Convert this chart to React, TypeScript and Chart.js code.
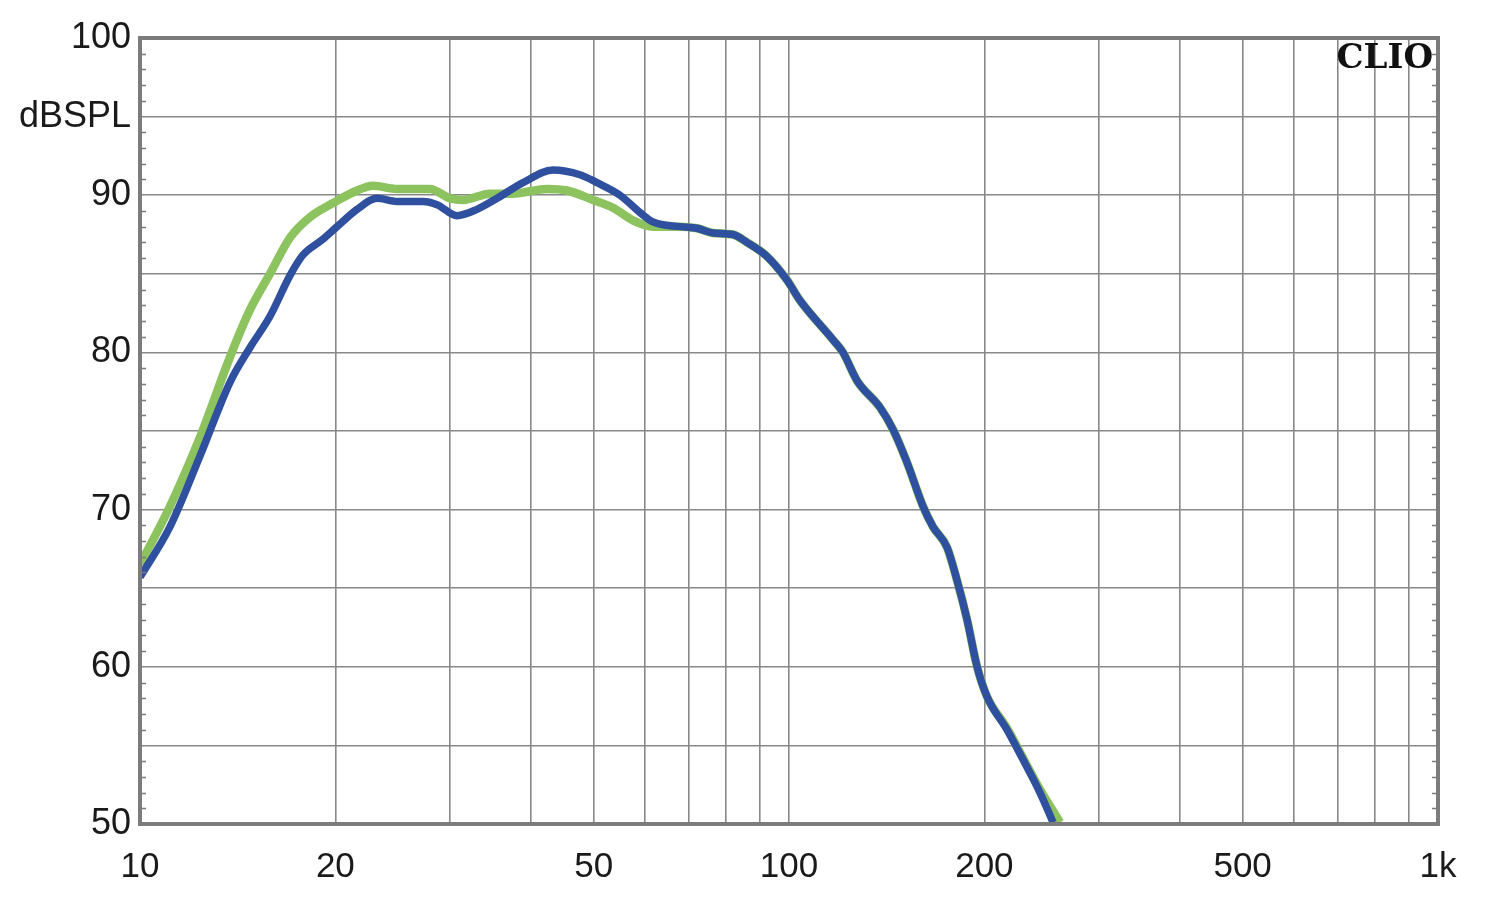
import React, { useEffect, useRef } from "react";
import { Chart, registerables } from "chart.js";

Chart.register(...registerables);

// Blue curve (frequency Hz / level dB SPL)
const blueFreq = [10, 11.12, 12.37, 13.76, 14.77, 15.86, 17.03, 17.83, 19.14, 20.12, 21.6, 23.19, 24.89, 27.3, 28.69, 30.79, 33.06, 35.49, 38.92, 43.29, 47.64, 50.6, 54.9, 58.93, 61.71, 67.92, 72.14, 76.36, 81.97, 86.14, 92.5, 99.29, 104, 116.9, 121.1, 127.3, 138.1, 144.6, 152, 160.9, 166.7, 175.2, 181.5, 188.1, 194.9, 201.9, 216.7, 229.4, 243.6, 255.2];
const blueDb = [65.7, 68.9, 73.4, 78.1, 80.3, 82.3, 84.9, 86.2, 87.2, 88.0, 89.1, 89.8, 89.6, 89.6, 89.4, 88.7, 89.1, 89.8, 90.8, 91.6, 91.3, 90.8, 90.0, 88.9, 88.3, 88.0, 87.9, 87.6, 87.5, 87.0, 86.1, 84.6, 83.3, 80.8, 80.0, 78.2, 76.5, 75.1, 73.0, 70.2, 68.9, 67.6, 65.5, 63.0, 60.0, 58.1, 56.0, 54.1, 52.0, 50.1];

// Green curve
const greenFreq = [10, 11.12, 12.37, 13.76, 14.77, 15.86, 17.03, 18.27, 19.84, 21.6, 22.86, 24.89, 27.98, 30.04, 31.46, 34.62, 37.55, 42.38, 45.49, 49.89, 53.56, 57.47, 61.71, 63.27, 67.92, 72.14, 76.36, 81.97, 86.14, 92.5, 99.29, 104, 116.9, 121.1, 127.3, 138.1, 144.6, 152, 160.9, 166.7, 175.2, 181.5, 188.1, 194.9, 201.9, 216.7, 229.4, 243.6, 261.6];
const greenDb = [66.5, 70.2, 74.6, 79.7, 82.7, 85.0, 87.3, 88.6, 89.5, 90.3, 90.6, 90.4, 90.4, 89.8, 89.7, 90.1, 90.1, 90.4, 90.3, 89.7, 89.2, 88.4, 88.0, 88.0, 88.0, 87.9, 87.6, 87.5, 87.0, 86.1, 84.6, 83.3, 80.8, 80.0, 78.2, 76.5, 75.1, 73.0, 70.2, 68.9, 67.6, 65.5, 63.0, 60.0, 58.1, 56.1, 54.2, 52.2, 50.1];

// Axes
const gridFreqs = [10, 20, 30, 40, 50, 60, 70, 80, 90, 100, 200, 300, 400, 500, 600, 700, 800, 900, 1000];
const xLabelFreqs = [10, 20, 50, 100, 200, 500, 1000];
const xLabelTexts = ["10", "20", "50", "100", "200", "500", "1k"];
const yMin = 50;
const yMax = 100;
const yMajorStep = 5;
const yMinorStep = 1;
const yLabelValues = [50, 60, 70, 80, 90, 95, 100];
const yLabelTexts = ["50", "60", "70", "80", "90", "dBSPL", "100"];
const brandText = "CLIO";

const FONT = '"Liberation Sans", Arial, Helvetica, sans-serif';

const framePlugin = {
  id: "frameAndTicks",
  afterDraw(chart: any) {
    const { ctx, chartArea: a, scales } = chart;
    const y = scales.y;
    ctx.save();
    ctx.strokeStyle = "#7a7a7a";
    ctx.lineWidth = 1.5;
    for (let v = yMin; v <= yMax; v += yMinorStep) {
      if (v % yMajorStep === 0) continue;
      const py = Math.round(y.getPixelForValue(v)) + 0.5;
      ctx.beginPath();
      ctx.moveTo(a.left, py);
      ctx.lineTo(a.left + 6, py);
      ctx.moveTo(a.right - 6, py);
      ctx.lineTo(a.right, py);
      ctx.stroke();
    }
    ctx.lineWidth = 4;
    ctx.strokeStyle = "#7c7c7c";
    ctx.strokeRect(a.left, a.top, a.right - a.left, a.bottom - a.top);
    ctx.font = 'bold 34px "DejaVu Serif", "Liberation Serif", serif';
    ctx.fillStyle = "#111111";
    ctx.textAlign = "right";
    ctx.textBaseline = "alphabetic";
    ctx.fillText(brandText, a.right - 5, a.top + 30);
    ctx.restore();
  },
};

export default function App() {
  const ref = useRef<HTMLCanvasElement | null>(null);

  useEffect(() => {
    if (!ref.current) return;
    const blue = blueFreq.map((f, i) => ({ x: f, y: blueDb[i] }));
    const green = greenFreq.map((f, i) => ({ x: f, y: greenDb[i] }));
    const chart = new Chart(ref.current, {
      type: "line",
      data: {
        datasets: [
          {
            label: "blue",
            data: blue,
            borderColor: "#2f4f9f",
            borderWidth: 7.5,
            pointRadius: 0,
            cubicInterpolationMode: "monotone",
            fill: false,
          },
          {
            label: "green",
            data: green,
            borderColor: "#8dc35f",
            borderWidth: 8.5,
            pointRadius: 0,
            cubicInterpolationMode: "monotone",
            fill: false,
          },
        ],
      },
      options: {
        animation: false,
        responsive: true,
        maintainAspectRatio: false,
        layout: { padding: { top: 38, right: 62, left: 0, bottom: 0 } },
        plugins: { legend: { display: false }, tooltip: { enabled: false } },
        scales: {
          x: {
            type: "logarithmic",
            min: 10,
            max: 1000,
            afterBuildTicks: (s: any) => {
              s.ticks = gridFreqs.map((v) => ({ value: v }));
            },
            afterFit: (s: any) => {
              s.height = 78;
            },
            ticks: {
              autoSkip: false,
              maxRotation: 0,
              minRotation: 0,
              padding: 22,
              color: "#1a1a1a",
              font: { family: FONT, size: 35 },
              callback: (v: any) => {
                const i = xLabelFreqs.indexOf(Number(v));
                return i >= 0 ? xLabelTexts[i] : "";
              },
            },
            grid: { color: "#888888", lineWidth: 1.6, drawTicks: false },
            border: { display: false },
          },
          y: {
            type: "linear",
            min: yMin,
            max: yMax,
            afterFit: (s: any) => {
              s.width = 140;
            },
            ticks: {
              stepSize: yMajorStep,
              autoSkip: false,
              padding: 9,
              color: "#1a1a1a",
              font: { family: FONT, size: 36 },
              callback: (v: any) => {
                const i = yLabelValues.indexOf(Number(v));
                return i >= 0 ? yLabelTexts[i] : "";
              },
            },
            grid: { color: "#888888", lineWidth: 1.6, drawTicks: false },
            border: { display: false },
          },
        },
      },
      plugins: [framePlugin],
    });
    return () => chart.destroy();
  }, []);

  return (
    <div style={{ position: "absolute", left: 0, top: 0, width: 1500, height: 902, background: "#ffffff" }}>
      <canvas ref={ref} />
    </div>
  );
}
